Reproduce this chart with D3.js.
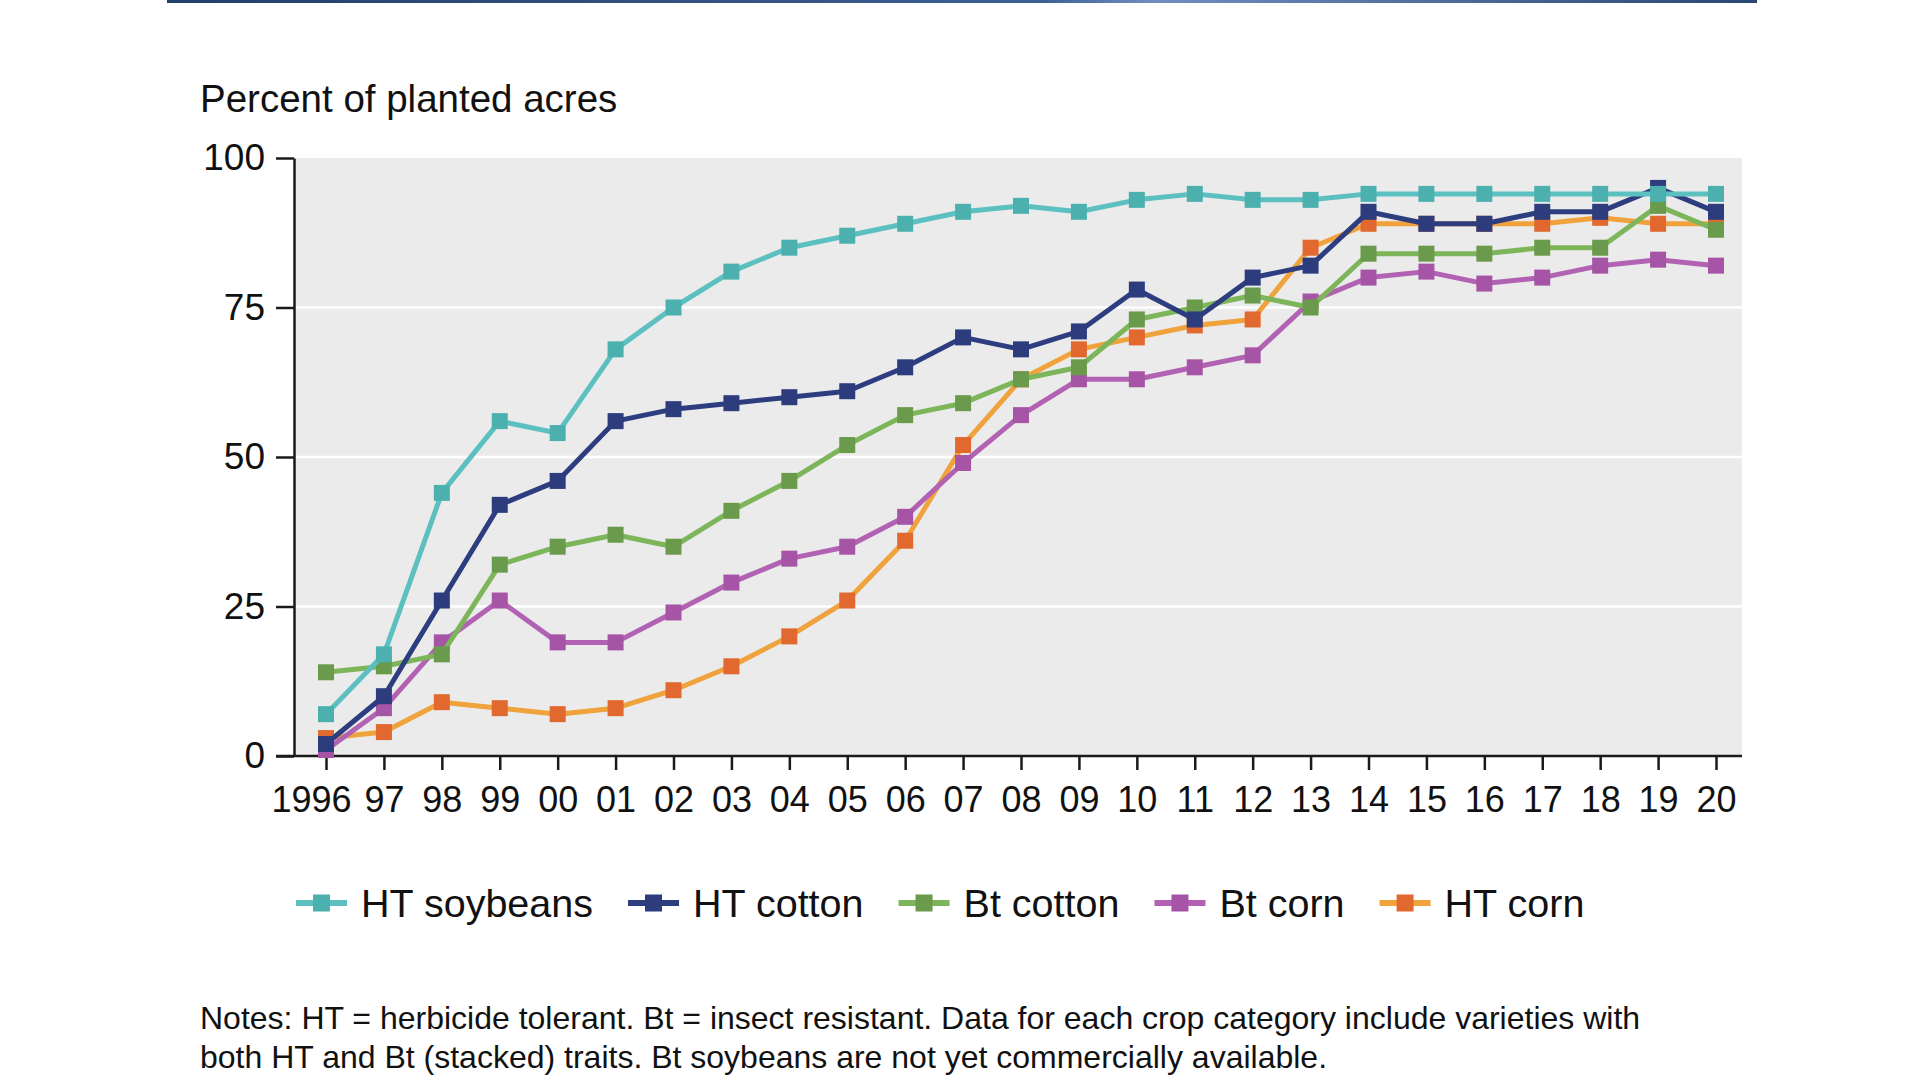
<!DOCTYPE html>
<html>
<head>
<meta charset="utf-8">
<script src="https://cdn.jsdelivr.net/npm/d3@7.9.0/dist/d3.min.js"></script>
<style>
  html, body { margin: 0; padding: 0; background: #fff; }
  svg { display: block; font-family: "Liberation Sans", Arial, Helvetica, sans-serif; }
</style>
</head>
<body>
<svg id="chart" width="1920" height="1080"></svg>
<script>
const years = [1996, 1997, 1998, 1999, 2000, 2001, 2002, 2003, 2004, 2005, 2006, 2007, 2008,
               2009, 2010, 2011, 2012, 2013, 2014, 2015, 2016, 2017, 2018, 2019, 2020];
const yearLabels = ["1996", "97", "98", "99", "00", "01", "02", "03", "04", "05", "06", "07", "08",
                    "09", "10", "11", "12", "13", "14", "15", "16", "17", "18", "19", "20"];
const yTicks = [0, 25, 50, 75, 100];

const htSoybeans = [7, 17, 44, 56, 54, 68, 75, 81, 85, 87, 89, 91, 92, 91, 93, 94, 93, 93, 94, 94, 94, 94, 94, 94, 94];
const htCotton   = [2, 10, 26, 42, 46, 56, 58, 59, 60, 61, 65, 70, 68, 71, 78, 73, 80, 82, 91, 89, 89, 91, 91, 95, 91];
const btCotton   = [14, 15, 17, 32, 35, 37, 35, 41, 46, 52, 57, 59, 63, 65, 73, 75, 77, 75, 84, 84, 84, 85, 85, 92, 88];
const btCorn     = [1, 8, 19, 26, 19, 19, 24, 29, 33, 35, 40, 49, 57, 63, 63, 65, 67, 76, 80, 81, 79, 80, 82, 83, 82];
const htCorn     = [3, 4, 9, 8, 7, 8, 11, 15, 20, 26, 36, 52, 63, 68, 70, 72, 73, 85, 89, 89, 89, 89, 90, 89, 89];

const seriesNames = ["HT soybeans", "HT cotton", "Bt cotton", "Bt corn", "HT corn"];
const seriesValues = [htSoybeans, htCotton, btCotton, btCorn, htCorn];
const lineColors = ["#5cbfc0", "#2e3d7f", "#7db55b", "#b262b2", "#f0a23c"];
const markColors = ["#4cb0af", "#2d3c7d", "#6a9a4b", "#a654a6", "#e1682e"];

const svg = d3.select("#chart");

// top rule
const grad = svg.append("defs").append("linearGradient").attr("id", "rule");
grad.append("stop").attr("offset", "0%").attr("stop-color", "#233f6b");
grad.append("stop").attr("offset", "55%").attr("stop-color", "#3d5f92");
grad.append("stop").attr("offset", "62%").attr("stop-color", "#6f8fc0");
grad.append("stop").attr("offset", "100%").attr("stop-color", "#2a4674");
svg.append("rect").attr("x", 167).attr("y", 0).attr("width", 1590).attr("height", 3).attr("fill", "url(#rule)");

const plot = {left: 294, right: 1742, top: 158, bottom: 756};

const x = d3.scaleLinear().domain([1996, 2020]).range([326, 1716]);
const y = d3.scaleLinear().domain([0, 100]).range([plot.bottom, plot.top]);

svg.append("rect")
  .attr("x", plot.left).attr("y", plot.top)
  .attr("width", plot.right - plot.left).attr("height", plot.bottom - plot.top)
  .attr("fill", "#ebebeb");

// gridlines
svg.append("g").selectAll("line")
  .data(yTicks.filter(d => d > 0 && d < 100))
  .join("line")
  .attr("x1", plot.left).attr("x2", plot.right)
  .attr("y1", d => y(d)).attr("y2", d => y(d))
  .attr("stroke", "#fff").attr("stroke-width", 2.5);

// y axis
const yAxis = svg.append("g")
  .attr("transform", `translate(${plot.left},0)`)
  .call(d3.axisLeft(y).tickValues(yTicks).tickSize(18).tickPadding(11).tickSizeOuter(0));
yAxis.select(".domain").attr("stroke", "#1a1a1a").attr("stroke-width", 2.5);
yAxis.selectAll(".tick line").attr("stroke", "#1a1a1a").attr("stroke-width", 2.5);
yAxis.selectAll(".tick text").attr("font-size", 37).attr("fill", "#111")
  .attr("font-family", "'Liberation Sans', Arial, sans-serif");

// x axis
const xAxis = svg.append("g")
  .attr("transform", `translate(0,${plot.bottom})`)
  .call(d3.axisBottom(x).tickValues(years).tickFormat((d, i) => yearLabels[i]).tickSize(14).tickPadding(16).tickSizeOuter(0));
xAxis.select(".domain").remove();
xAxis.append("line")
  .attr("x1", 276).attr("x2", plot.right).attr("y1", 0).attr("y2", 0)
  .attr("stroke", "#1a1a1a").attr("stroke-width", 2.5);
xAxis.selectAll(".tick line").attr("stroke", "#1a1a1a").attr("stroke-width", 2.5);
xAxis.selectAll(".tick text").attr("font-size", 36).attr("fill", "#111")
  .attr("font-family", "'Liberation Sans', Arial, sans-serif")
  .attr("dx", (d, i) => i === 0 ? -15 : 0);

// y title
svg.append("text")
  .attr("x", 200).attr("y", 112)
  .attr("font-size", 38.5).attr("fill", "#111")
  .text("Percent of planted acres");

// series, last legend entry drawn first
const line = d3.line().x((d, i) => x(years[i])).y(d => y(d));
const mark = 16;
for (let k = seriesNames.length - 1; k >= 0; k--) {
  const g = svg.append("g");
  g.append("path")
    .datum(seriesValues[k])
    .attr("d", line)
    .attr("fill", "none")
    .attr("stroke", lineColors[k])
    .attr("stroke-width", 5)
    .attr("stroke-linejoin", "round");
  g.selectAll("rect")
    .data(seriesValues[k])
    .join("rect")
    .attr("x", (d, i) => x(years[i]) - mark / 2)
    .attr("y", d => y(d) - mark / 2)
    .attr("width", mark).attr("height", mark)
    .attr("fill", markColors[k]);
}

// legend
const legend = svg.append("g").attr("transform", "translate(296,903)");
let lx = 0;
seriesNames.forEach((name, k) => {
  const item = legend.append("g").attr("transform", `translate(${lx},0)`);
  item.append("line").attr("x1", 0).attr("x2", 51).attr("y1", 0).attr("y2", 0)
    .attr("stroke", lineColors[k]).attr("stroke-width", 6);
  item.append("rect").attr("x", 25.5 - 8.5).attr("y", -8.5).attr("width", 17).attr("height", 17)
    .attr("fill", markColors[k]);
  const t = item.append("text").attr("x", 65).attr("y", 14)
    .attr("font-size", 39.5).attr("fill", "#111").text(name);
  lx += 65 + t.node().getComputedTextLength() + 35;
});

// notes
const notes = [
  "Notes: HT = herbicide tolerant. Bt = insect resistant. Data for each crop category include varieties with",
  "both HT and Bt (stacked) traits. Bt soybeans are not yet commercially available."
];
svg.append("g").selectAll("text")
  .data(notes)
  .join("text")
  .attr("x", 200).attr("y", (d, i) => 1029 + i * 39)
  .attr("font-size", 32).attr("fill", "#111")
  .text(d => d);
</script>
</body>
</html>
